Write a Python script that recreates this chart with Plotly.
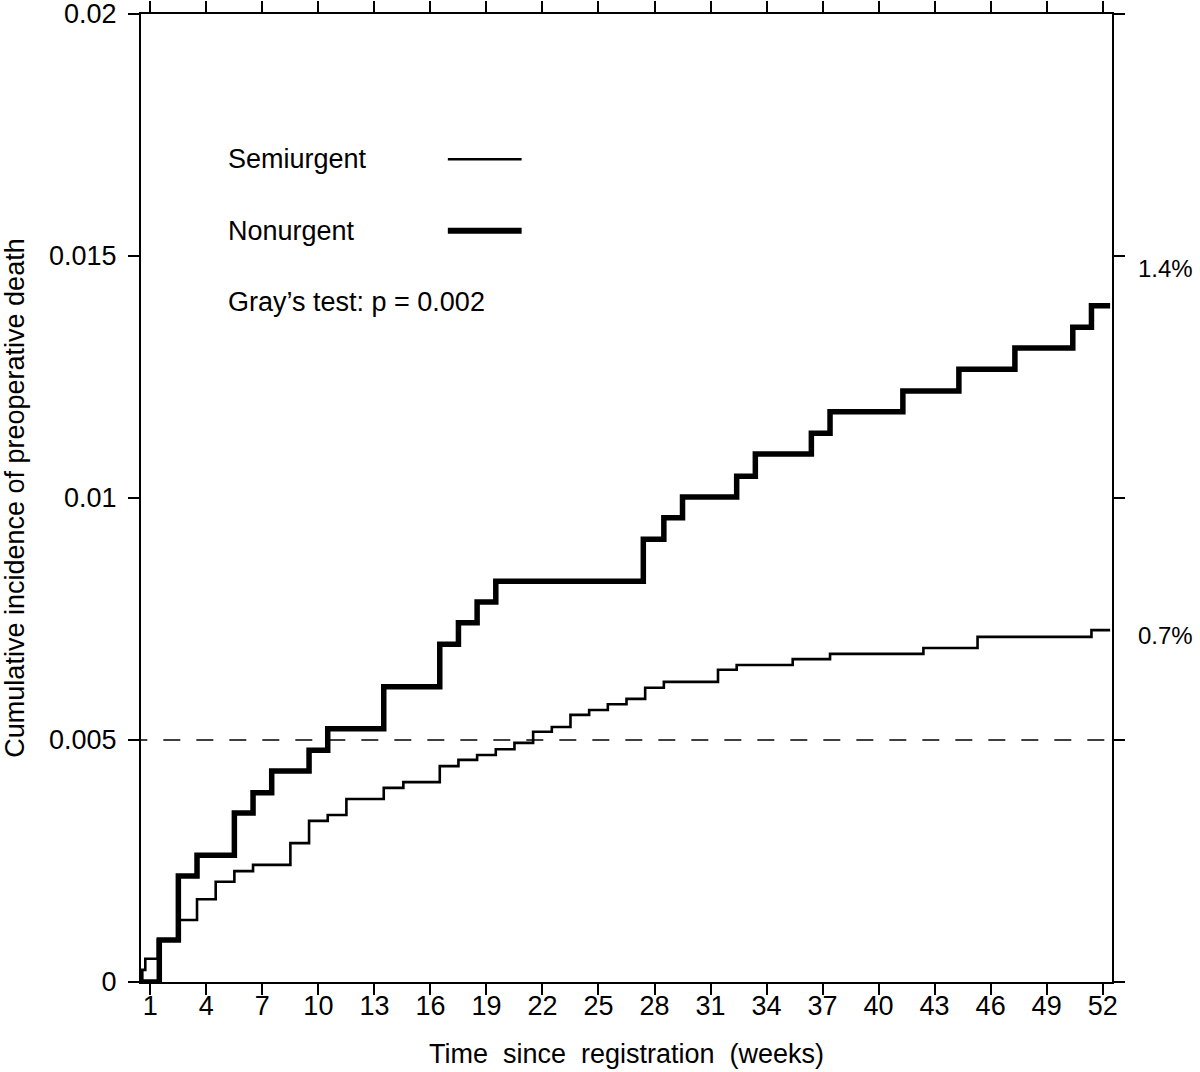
import plotly.graph_objects as go

# ---- data ----
semi_weeks = [0.5, 0.57, 0.73, 1.4, 2.5, 3.5, 4.5, 5.5, 6.5, 8.5, 9.5, 10.5, 11.5, 13.5, 14.55,
              16.5, 17.5, 18.5, 19.5, 20.5, 21.5, 22.5, 23.5, 24.5, 25.5, 26.5, 27.5, 28.5,
              31.4, 32.4, 35.4, 37.4, 42.4, 45.3, 51.4, 52.4]
semi_cif = [0, 0.00025, 0.00048, 0.00087, 0.00128, 0.00171, 0.00207, 0.00229, 0.00242, 0.00287,
            0.00333, 0.00345, 0.00378, 0.00401, 0.00413, 0.00446, 0.00459, 0.00469, 0.00481,
            0.00494, 0.00517, 0.00527, 0.00552, 0.00562, 0.00574, 0.00585, 0.00608, 0.0062,
            0.00645, 0.00655, 0.00667, 0.00678, 0.0069, 0.00713, 0.00727, 0.00727]

non_weeks = [0.5, 1.48, 2.5, 3.5, 5.5, 6.5, 7.5, 9.5, 10.5, 13.5, 16.5, 17.5, 18.5, 19.5, 27.4,
             28.5, 29.5, 32.4, 33.4, 36.4, 37.4, 41.3, 44.3, 47.3, 50.4, 51.4, 52.4]
non_cif = [0, 0.00087, 0.00219, 0.00262, 0.00349, 0.00391, 0.00436, 0.00479, 0.00523, 0.0061,
           0.00698, 0.00742, 0.00785, 0.00828, 0.00915, 0.00959, 0.01002, 0.01045, 0.01091,
           0.01134, 0.01178, 0.01221, 0.01266, 0.0131, 0.01353, 0.01397, 0.01397]

x_ticks = [1, 4, 7, 10, 13, 16, 19, 22, 25, 28, 31, 34, 37, 40, 43, 46, 49, 52]
y_ticks = [0, 0.005, 0.01, 0.015, 0.02]
y_tick_labels = ["0", "0.005", "0.01", "0.015", "0.02"]
ref_level = 0.005
end_labels = ["1.4%", "0.7%"]
end_label_y = [0.01475, 0.00715]

FONT = "Liberation Sans, Arial, Helvetica, sans-serif"
FS = 27

fig = go.Figure()
fig.add_trace(go.Scatter(x=semi_weeks, y=semi_cif, mode="lines", line_shape="hv",
                         line=dict(color="black", width=2.6), name="Semiurgent",
                         showlegend=False))
fig.add_trace(go.Scatter(x=non_weeks, y=non_cif, mode="lines", line_shape="hv",
                         line=dict(color="black", width=5.5), name="Nonurgent",
                         showlegend=False))

# reference dashed line
fig.add_shape(type="line", xref="paper", yref="y", x0=-0.011, x1=1.0, y0=ref_level, y1=ref_level,
              line=dict(color="black", width=1.6, dash="17px,16px"), layer="below")

# custom legend (text left, line sample right)
leg = [("Semiurgent", 0.850, 2.6), ("Nonurgent", 0.776, 6)]
for txt, yy, w in leg:
    fig.add_annotation(text=txt, xref="paper", yref="paper", x=0.0875, y=yy,
                       xanchor="left", yanchor="middle", showarrow=False,
                       font=dict(family=FONT, size=FS, color="black"))
    fig.add_shape(type="line", xref="paper", yref="paper", x0=0.316, x1=0.392, y0=yy, y1=yy,
                  line=dict(color="black", width=w))
fig.add_annotation(text="Gray\u2019s test: p = 0.002", xref="paper", yref="paper",
                   x=0.0875, y=0.7025, xanchor="left", yanchor="middle", showarrow=False,
                   font=dict(family=FONT, size=FS, color="black"))

for txt, yy in zip(end_labels, end_label_y):
    fig.add_annotation(text=txt, xref="paper", yref="y", x=1.0247, y=yy,
                       xanchor="left", yanchor="middle", showarrow=False,
                       font=dict(family=FONT, size=24, color="black"))

axis_common = dict(showgrid=False, zeroline=False, showline=True, linecolor="black",
                   linewidth=2, ticks="outside", tickcolor="black", tickwidth=2,
                   mirror="ticks", ticklabeloverflow="allow",
                   tickfont=dict(family=FONT, size=FS, color="black"))

fig.update_layout(
    width=1200, height=1072,
    margin=dict(l=141, r=88, t=14, b=90, autoexpand=False),
    paper_bgcolor="white", plot_bgcolor="white",
    xaxis=dict(range=[0.5, 52.5], tickvals=x_ticks, ticklen=11, ticklabelstandoff=-12,
               title=dict(text="Time\u00a0 since\u00a0 registration\u00a0 (weeks)",
                          font=dict(family=FONT, size=FS, color="black"), standoff=24),
               automargin=False, **axis_common),
    yaxis=dict(range=[0, 0.0200001], tickvals=y_ticks, ticktext=y_tick_labels, ticklen=11,
               ticklabelstandoff=6,
               title=dict(text="Cumulative incidence of preoperative death",
                          font=dict(family=FONT, size=FS, color="black"), standoff=34),
               automargin=False, **axis_common),
)

# remove the browser's default 8px body margin so the figure sits at the page origin
fig.write_html("out.html", config={"displayModeBar": False},
               post_script="document.body.style.margin='0';")
